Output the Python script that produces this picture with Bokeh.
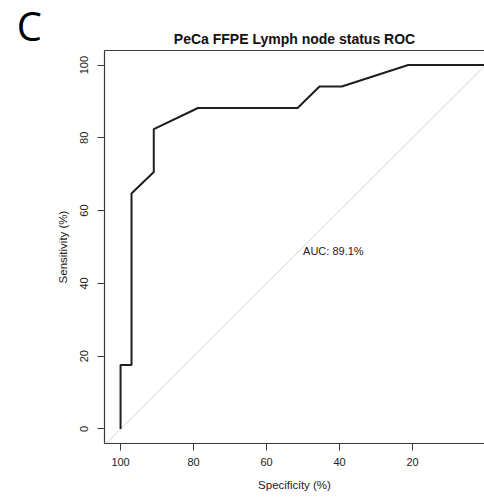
from bokeh.plotting import figure
from bokeh.models import Range1d, FixedTicker, LinearAxis, Label, ColumnDataSource
from bokeh.embed import file_html
from bokeh.resources import INLINE
from bokeh.core.properties import value

# ---- data ----
specificity = [100.0, 100.0, 97.0, 97.0, 90.9, 90.9, 78.8, 51.5, 45.5, 39.4, 21.2, 0.0]
sensitivity = [0.0, 17.6, 17.6, 64.7, 70.6, 82.4, 88.2, 88.2, 94.1, 94.1, 100.0, 100.0]
auc_percent = 89.1
x_ticks = [100, 80, 60, 40, 20, 0]
y_ticks = [0, 20, 40, 60, 80, 100]
title_text = "PeCa FFPE Lymph node status ROC"
panel_letter = "C"
x_label = "Specificity (%)"
y_label = "Sensitivity (%)"

FONT = "Liberation Sans"
AXIS_COLOR = "#3a3a3a"
TEXT_COLOR = "#222222"

X_START, X_END = 104.4, 0.3
Y_START, Y_END = -4.0, 104.0

p = figure(width=484, height=498, output_backend="svg", toolbar_location=None,
           x_range=Range1d(X_START, X_END), y_range=Range1d(Y_START, Y_END),
           min_border_left=104, min_border_right=0, min_border_top=50,
           min_border_bottom=55)

p.background_fill_color = "white"
p.border_fill_color = "white"
p.outline_line_color = None
p.xgrid.visible = False
p.ygrid.visible = False

# title
p.title.text = title_text
p.title.text_font = FONT
p.title.text_font_size = "14px"
p.title.text_font_style = "bold"
p.title.text_color = "#111111"
p.title.align = "center"
p.title.standoff = 8


def style_axis(ax, ticks, label):
    ax.ticker = FixedTicker(ticks=ticks)
    ax.axis_label = label
    ax.axis_label_text_font = FONT
    ax.axis_label_text_font_size = "11.5px"
    ax.axis_label_text_font_style = "normal"
    ax.axis_label_text_color = TEXT_COLOR
    ax.major_label_text_font = FONT
    ax.major_label_text_font_size = "11px"
    ax.major_label_text_color = TEXT_COLOR
    ax.axis_line_color = AXIS_COLOR
    ax.axis_line_width = 1.2
    ax.major_tick_line_color = AXIS_COLOR
    ax.major_tick_line_width = 1
    ax.major_tick_in = 0
    ax.major_tick_out = 7
    ax.minor_tick_line_color = None


xa = p.xaxis[0]
style_axis(xa, x_ticks, x_label)
xa.major_label_standoff = 7
xa.axis_label_standoff = 10

ya = p.yaxis[0]
style_axis(ya, y_ticks, y_label)
ya.major_label_orientation = "vertical"
ya.major_label_standoff = 9
ya.axis_label_standoff = 9

# top frame line
top = LinearAxis(ticker=FixedTicker(ticks=[]), major_label_text_font_size="0px",
                 major_tick_out=0, major_tick_in=0, minor_tick_out=0, minor_tick_in=0,
                 axis_line_color=AXIS_COLOR, axis_line_width=1.2,
                 major_label_standoff=0)
p.add_layout(top, "above")

# chance diagonal
diag_x = [X_START, X_END]
diag_y = [100 - v for v in diag_x]
p.line(diag_x, diag_y, line_color="#d4d4d4", line_width=1)

# ROC curve
src = ColumnDataSource(dict(spec=specificity, sens=sensitivity))
p.line("spec", "sens", source=src, line_color="#1e1e1e", line_width=2)

# AUC text
p.text(x=[50], y=[50], text=[f"AUC: {auc_percent}%"], text_align="left",
       text_baseline="top", y_offset=-2, text_font=value(FONT),
       text_font_size="11px", text_color=TEXT_COLOR)

# panel letter: put in a side panel so it is not clipped to the plot frame
letter = Label(x=128.45, y=110.8, text=panel_letter,
               text_font="Open Sans", text_font_size="40px", text_color="black",
               text_baseline="alphabetic", text_align="left")
p.add_layout(letter, "left")

open("out.html", "w").write(file_html(p, INLINE))
